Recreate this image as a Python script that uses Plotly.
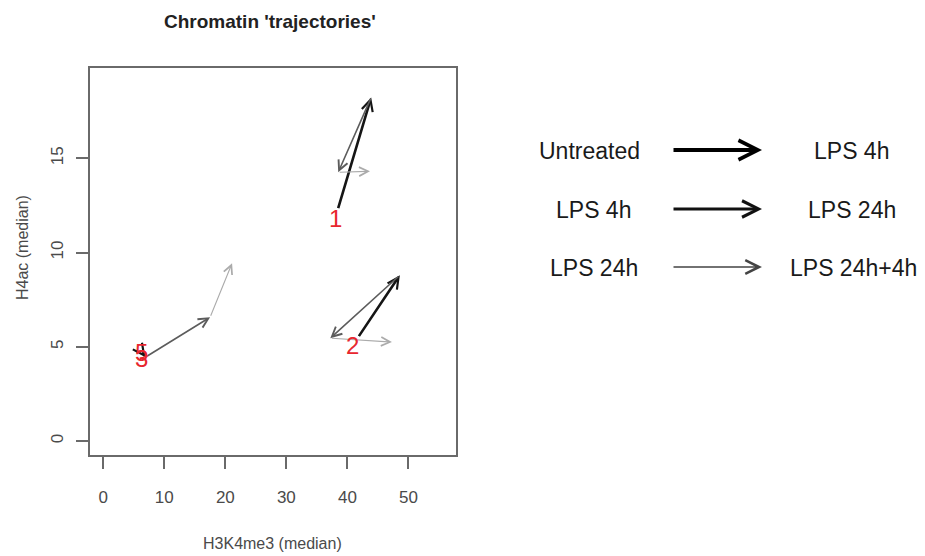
import plotly.graph_objects as go

W, H = 925, 556

# Median histone marks per chromatin cluster at each time point
cluster_ids = ["1", "2", "3", "5"]

h3k4me3_untreated = [38.0, 40.9, 6.3, 6.3]
h3k4me3_lps4h = [43.9, 48.6, 6.6, 6.9]
h3k4me3_lps24h = [38.5, 37.2, 6.8, 17.5]
h3k4me3_lps24h_4h = [43.7, 47.3, 7.0, 21.1]

h4ac_untreated = [11.82, 5.09, 4.40, 4.72]
h4ac_lps4h = [18.23, 8.80, 4.35, 4.45]
h4ac_lps24h = [14.26, 5.46, 4.40, 6.57]
h4ac_lps24h_4h = [14.31, 5.25, 4.45, 9.43]

# Transition legend
legend_from = ["Untreated", "LPS 4h", "LPS 24h"]
legend_to = ["LPS 4h", "LPS 24h", "LPS 24h+4h"]

x_ticks = [0, 10, 20, 30, 40, 50]
y_ticks = [0, 5, 10, 15]

FONT = "Liberation Sans, Arial, sans-serif"
AXIS_GREY = "#6a6a6a"
TEXT_GREY = "#4a4a4a"

# one style per transition step (thick/dark -> thin/light)
step_width = [2.6, 1.6, 1.1]
step_color = ["#151515", "#5c5c5c", "#ababab"]
step_headsize = [0.85, 1.2, 1.6]

legend_width = [4.0, 2.8, 1.5]
legend_color = ["#000000", "#111111", "#444444"]
legend_headsize = [0.95, 1.15, 1.8]

fig = go.Figure()

# invisible trace so the axes are drawn
fig.add_trace(go.Scatter(x=h3k4me3_untreated, y=h4ac_untreated, mode="markers",
                         marker=dict(opacity=0), hoverinfo="skip", showlegend=False))

xs = [h3k4me3_untreated, h3k4me3_lps4h, h3k4me3_lps24h, h3k4me3_lps24h_4h]
ys = [h4ac_untreated, h4ac_lps4h, h4ac_lps24h, h4ac_lps24h_4h]

for k in range(3):
    for i in range(len(cluster_ids)):
        x0, y0 = xs[k][i], ys[k][i]
        x1, y1 = xs[k + 1][i], ys[k + 1][i]
        big_move = abs(x1 - x0) + abs(y1 - y0) > 1
        fig.add_annotation(
            x=x1, y=y1, ax=x0, ay=y0,
            xref="x", yref="y", axref="x", ayref="y",
            text="", showarrow=True, arrowhead=5,
            arrowwidth=step_width[k], arrowcolor=step_color[k],
            arrowsize=step_headsize[k],
            startstandoff=9 if (k == 0 and big_move) else 0,
        )

# cluster numbers at the untreated position
for i, cid in enumerate(cluster_ids):
    fig.add_annotation(
        x=h3k4me3_untreated[i], y=h4ac_untreated[i], xref="x", yref="y",
        text=cid, showarrow=False, xanchor="center", yanchor="middle",
        font=dict(family=FONT, size=24, color="#e8262e"),
    )

# title and axis titles
fig.add_annotation(x=270 / W, y=1 - 22 / H, xref="paper", yref="paper",
                   text="<b>Chromatin 'trajectories'</b>", showarrow=False,
                   xanchor="center", yanchor="middle",
                   font=dict(family=FONT, size=19, color="#222222"))
fig.add_annotation(x=272.5 / W, y=1 - 543 / H, xref="paper", yref="paper",
                   text="H3K4me3 (median)", showarrow=False,
                   xanchor="center", yanchor="middle",
                   font=dict(family=FONT, size=16, color=TEXT_GREY))
fig.add_annotation(x=22 / W, y=1 - 248 / H, xref="paper", yref="paper",
                   text="H4ac (median)", showarrow=False, textangle=-90,
                   xanchor="center", yanchor="middle",
                   font=dict(family=FONT, size=16, color=TEXT_GREY))

# transition legend on the right
row_y = [151, 210, 268]
from_x = [589, 593, 594]
to_x = [851, 852, 853]
for r in range(3):
    yp = 1 - row_y[r] / H
    fig.add_annotation(x=from_x[r] / W, y=yp, xref="paper", yref="paper",
                       text=legend_from[r], showarrow=False,
                       xanchor="center", yanchor="middle",
                       font=dict(family=FONT, size=23, color="#1a1a1a"))
    fig.add_annotation(x=to_x[r] / W, y=yp, xref="paper", yref="paper",
                       text=legend_to[r], showarrow=False,
                       xanchor="center", yanchor="middle",
                       font=dict(family=FONT, size=23, color="#1a1a1a"))
    fig.add_annotation(x=762 / W, y=1 - (row_y[r] - 1) / H, xref="paper", yref="paper",
                       ax=-90, ay=0, text="", showarrow=True, arrowhead=5,
                       arrowwidth=legend_width[r], arrowcolor=legend_color[r],
                       arrowsize=legend_headsize[r])

axis_common = dict(
    showgrid=False, zeroline=False,
    showline=True, mirror=True, linecolor=AXIS_GREY, linewidth=1.5,
    ticks="outside", ticklen=12, tickwidth=1.5, tickcolor=AXIS_GREY,
    tickfont=dict(family=FONT, size=17, color=TEXT_GREY),
)

fig.update_layout(
    width=W, height=H,
    margin=dict(l=0, r=0, t=0, b=0),
    paper_bgcolor="white", plot_bgcolor="white",
    showlegend=False,
    xaxis=dict(range=[-2.18, 57.8], domain=[90 / W, 456 / W],
               tickvals=x_ticks, ticklabelstandoff=14, **axis_common),
    yaxis=dict(range=[-0.74, 19.79], domain=[(H - 455) / H, (H - 68) / H],
               tickvals=y_ticks, tickangle=-90, ticklabelstandoff=6, **axis_common),
)

fig.write_html("out.html")
